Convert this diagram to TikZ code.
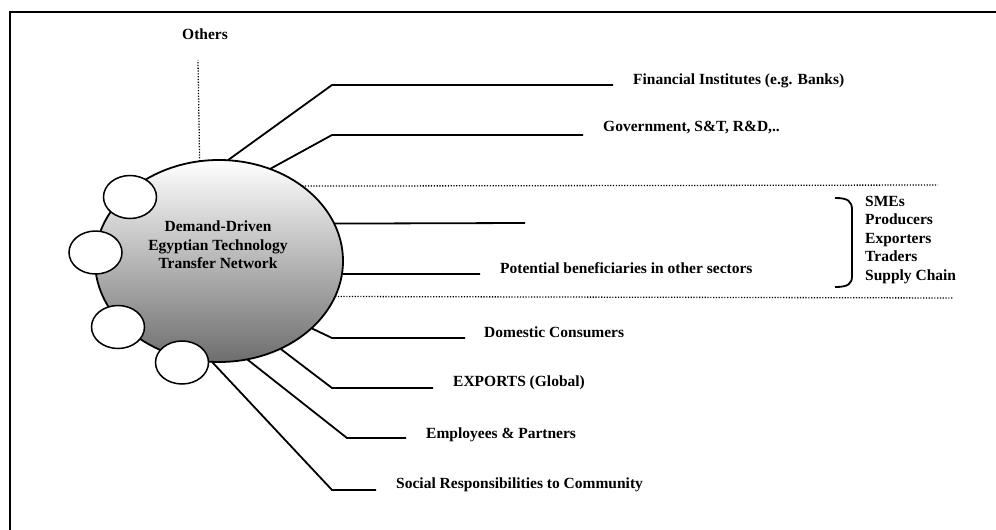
\documentclass[tikz,border=0pt]{standalone}
\usepackage{fontspec}
\setmainfont{Liberation Serif}
\usetikzlibrary{shapes.geometric}
\begin{document}
\begin{tikzpicture}[x=1pt,y=-1pt,
  lbl/.style={inner sep=0pt, anchor=base west, font=\fontsize{15.5}{18.5}\selectfont\bfseries},
  conn/.style={line width=1.8pt},
  dots/.style={line width=1.3pt, dash pattern=on 1.2pt off 1.6pt},
  bubble/.style={ellipse, draw, line width=1.5pt, fill=white, minimum width=53pt, minimum height=43pt, inner sep=0pt, outer sep=0pt}]
\useasboundingbox (0,0) rectangle (996,530);
\fill[white] (0,0) rectangle (996,530);
% frame
\coordinate (fa) at (10,530);
\coordinate (fb) at (10,12);
\coordinate (fc) at (996,12);
\draw[line width=2pt] (fa) -- (fb) -- (fc);
% main ellipse
\node[ellipse, draw, line width=1.8pt, top color=white, bottom color=black!57, minimum width=248pt, minimum height=202pt, inner sep=0pt, outer sep=0pt] (main) at (219,261) {};
\node[inner sep=0pt, align=center, font=\fontsize{15.5}{18.5}\selectfont\bfseries] (title) at (218,245) {Demand-Driven\\Egyptian Technology\\Transfer Network};
% labels
\node[lbl] (others) at (182,39) {Others};
\node[lbl] (fin) at (633,84) {Financial Institutes (e.g. Banks)};
\node[lbl] (gov) at (603,131) {Government, S\&T, R\&D,..};
\node[lbl] (pot) at (500,273) {Potential beneficiaries in other sectors};
\node[lbl, anchor=west, align=left] (list) at (865,240) {SMEs\\Producers\\Exporters\\Traders\\Supply Chain};
\node[lbl] (dom) at (484,337) {Domestic Consumers};
\node[lbl] (exp) at (453,386) {EXPORTS (Global)};
\node[lbl] (emp) at (426,438) {Employees \& Partners};
\node[lbl] (soc) at (396,488) {Social Responsibilities to Community};
% coordinates
\coordinate (o) at (198,60);
\coordinate (d1) at (938,185);
\coordinate (d2) at (953,298);
\coordinate (f1) at (332,85);  \coordinate (f2) at (613,85);
\coordinate (g1) at (332,135); \coordinate (g2) at (583,135);
\coordinate (p1) at (525,223);
\coordinate (p2) at (480,274);
\coordinate (c1) at (332,338); \coordinate (c2) at (465,338);
\coordinate (x1) at (332,388); \coordinate (x2) at (433,388);
\coordinate (e1) at (347,438); \coordinate (e2) at (406,438);
\coordinate (s1) at (332,490); \coordinate (s2) at (376,490);
% dotted lines
\draw[dots] (main.101.9) -- (o);
\draw[dots] (main.42.9) -- (d1);
\draw[dots] (main.-17.8) -- (d2);
% connectors
\draw[conn] (main.85.5) -- (f1) -- (f2);
\draw[conn] (main.61.7) -- (g1) -- (g2);
\draw[conn] (main.18.4) -- (p1);
\draw[conn] (main.-6) -- (p2);
\draw[conn] (main.-36.2) -- (c1) -- (c2);
\draw[conn] (main.-55.6) -- (x1) -- (x2);
\draw[conn] (main.-74.5) -- (e1) -- (e2);
\draw[conn] (main.-94) -- (s1) -- (s2);
% bracket
\draw[line width=1.8pt] (835,198) .. controls (848,198) and (852,201) .. (852,210) -- (852,276) .. controls (852,284) and (848,287) .. (835,287);
% small bubbles
\node[bubble] (b1) at (130,197) {};
\node[bubble] (b2) at (95.5,252.5) {};
\node[bubble] (b3) at (118,327) {};
\node[bubble] (b4) at (182,362.5) {};
\end{tikzpicture}
\end{document}
